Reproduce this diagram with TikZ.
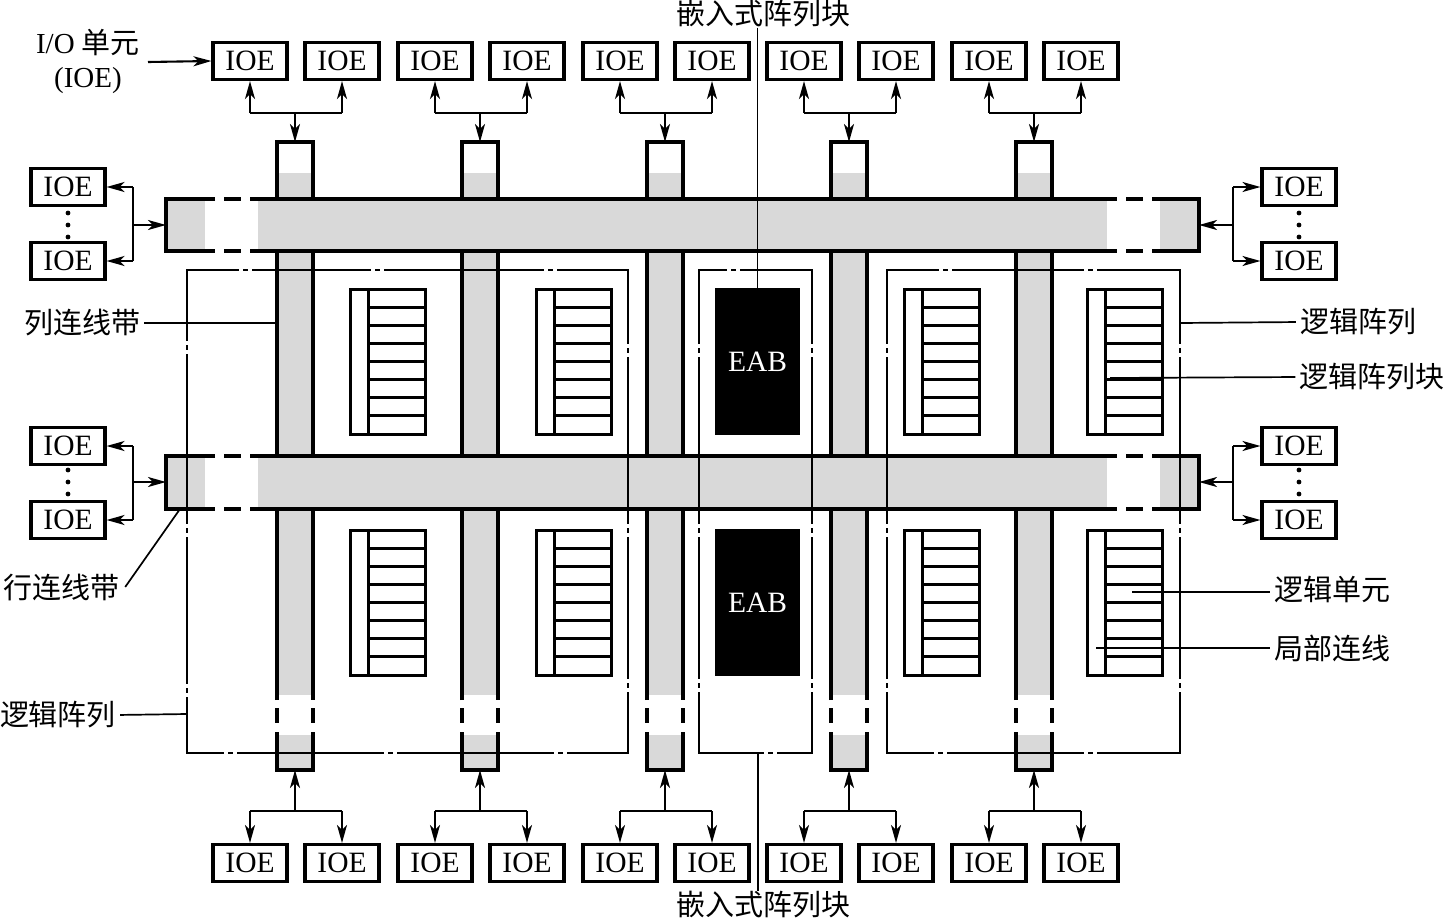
\documentclass[tikz,border=0pt]{standalone}
\usepackage{fontspec}
\setmainfont{Liberation Serif}
\newfontfamily\cjk{Noto Sans CJK SC}
\usetikzlibrary{arrows.meta}
\definecolor{bargrey}{RGB}{217,217,217}
\begin{document}
\begin{tikzpicture}[x=1pt,y=-1pt,
  thickline/.style={line width=3.3pt},
  thinline/.style={line width=1.7pt},
  ioe/.style={draw,line width=3.1pt,minimum width=74pt,minimum height=37pt,inner sep=0pt,font=\fontsize{29.5}{31}\selectfont},
  lbl/.style={inner sep=0pt,font=\fontsize{29}{31}\selectfont\cjk},
  conn/.style={line width=2.1pt},
  arr/.style={conn,-{Stealth[length=18pt,width=10pt,inset=5pt]}},
  labbox/.style={line width=3pt},
  vgap/.style={dash pattern=on 73pt off 6pt on 3pt off 6pt on 165pt off 6pt on 3pt off 6pt on 140pt off 6pt on 3pt off 6pt on 1000pt},
  leader/.style={thinline,shorten >=4pt},
]
\useasboundingbox (0,0) rectangle (1446,921);

% column interconnect bars
\foreach \c [count=\i] in {295,480,665,849,1034}{
  \fill[bargrey] (\c-18,173) rectangle (\c+18,695);
  \fill[bargrey] (\c-18,735) rectangle (\c+18,770);
  \draw[thickline] (\c-18,700) -- (\c-18,142) -- (\c+18,142) -- (\c+18,700);
  \draw[thickline] (\c-18,708) -- (\c-18,723) (\c+18,708) -- (\c+18,723);
  \draw[thickline] (\c-18,732) -- (\c-18,770) -- (\c+18,770) -- (\c+18,732);
  \coordinate (colT\i) at (\c,142);
  \coordinate (colB\i) at (\c,770);
}

% row interconnect bars
\foreach \ya/\yb/\n in {199/251/1,456/509/2}{
  \fill[white] (166,\ya) rectangle (1199,\yb);
  \fill[bargrey] (166,\ya) rectangle (205,\yb);
  \fill[bargrey] (258,\ya) rectangle (1107,\yb);
  \fill[bargrey] (1160,\ya) rectangle (1199,\yb);
  \draw[thickline] (215,\ya) -- (166,\ya) -- (166,\yb) -- (215,\yb);
  \draw[thickline] (224,\ya) -- (241,\ya) (224,\yb) -- (241,\yb);
  \draw[thickline] (250,\ya) -- (1117,\ya) (250,\yb) -- (1117,\yb);
  \draw[thickline] (1126,\ya) -- (1143,\ya) (1126,\yb) -- (1143,\yb);
  \draw[thickline] (1152,\ya) -- (1199,\ya) -- (1199,\yb) -- (1152,\yb);
}
\coordinate (barL1) at (166,225);
\coordinate (barR1) at (1199,225);
\coordinate (barL2) at (166,482);
\coordinate (barR2) at (1199,482);

% logic array borders (dash-dot)
\begin{scope}[thinline,line cap=rect]
  \draw[dash pattern=on 51pt off 6pt on 3pt off 6pt on 117pt off 6pt on 3pt off 6pt on 158pt off 6pt on 3pt off 6pt on 1000pt] (187,270) -- (628,270);
  \draw[dash pattern=on 36pt off 6pt on 3pt off 6pt on 145pt off 6pt on 3pt off 6pt on 155pt off 6pt on 3pt off 6pt on 1000pt] (187,753) -- (628,753);
  \draw[dash pattern=on 70pt off 6pt on 3pt off 6pt on 168pt off 6pt on 3pt off 6pt on 145pt off 6pt on 3pt off 6pt on 1000pt] (187,270) -- (187,753);
  \draw[vgap] (628,270) -- (628,753);
  \draw[dash pattern=on 27pt off 6pt on 3pt off 6pt on 1000pt] (699,270) -- (812,270);
  \draw[dash pattern=on 64pt off 6pt on 3pt off 6pt on 1000pt] (699,753) -- (812,753);
  \draw[vgap] (699,270) -- (699,753);
  \draw[vgap] (812,270) -- (812,753);
  \draw[dash pattern=on 51pt off 6pt on 3pt off 6pt on 130pt off 6pt on 3pt off 6pt on 1000pt] (887,270) -- (1180,270);
  \draw[dash pattern=on 46pt off 6pt on 3pt off 6pt on 135pt off 6pt on 3pt off 6pt on 1000pt] (887,753) -- (1180,753);
  \draw[vgap] (887,270) -- (887,753);
  \draw[vgap] (1180,270) -- (1180,753);
\end{scope}
\coordinate (arrL) at (187,714);
\coordinate (arrR) at (1180,323);
\coordinate (midB) at (758,753);

% logic array blocks
\foreach \lx in {350,536,904,1087}{
  \foreach \ly in {289,530}{
    \draw[labbox] (\lx,\ly) rectangle (\lx+75,\ly+145);
    \draw[labbox] (\lx+18,\ly) -- (\lx+18,\ly+145);
    \foreach \k in {1,...,7}
      \draw[labbox] (\lx+18,\ly+\k*18.125) -- (\lx+75,\ly+\k*18.125);
  }
}
\coordinate (labPt) at (1110,378);
\coordinate (lePt) at (1132,592);
\coordinate (liPt) at (1096,648);
\coordinate (col1L) at (277,323);
\coordinate (bar2pt) at (180,509);

% EABs
\node[fill=black,minimum width=85pt,minimum height=147pt,inner sep=0pt,text=white,font=\fontsize{29.5}{31}\selectfont] (eab1) at (757.5,361.5) {EAB};
\node[fill=black,minimum width=85pt,minimum height=147pt,inner sep=0pt,text=white,font=\fontsize{29.5}{31}\selectfont] (eab2) at (757.5,602.5) {EAB};

% top / bottom IOEs
\foreach \c [count=\i] in {295,480,665,849,1034}{
  \node[ioe] (tL\i) at (\c-45,61) {IOE};
  \node[ioe] (tR\i) at (\c+47,61) {IOE};
  \node[ioe] (bL\i) at (\c-45,863) {IOE};
  \node[ioe] (bR\i) at (\c+47,863) {IOE};
  \coordinate (tJ\i) at (\c,113);
  \coordinate (bJ\i) at (\c,811);
  \draw[conn] (tL\i.south |- tJ\i) -- (tR\i.south |- tJ\i);
  \draw[arr] (tL\i.south |- tJ\i) -- (tL\i.south);
  \draw[arr] (tR\i.south |- tJ\i) -- (tR\i.south);
  \draw[arr] (tJ\i) -- (colT\i);
  \draw[conn] (bL\i.north |- bJ\i) -- (bR\i.north |- bJ\i);
  \draw[arr] (bL\i.north |- bJ\i) -- (bL\i.north);
  \draw[arr] (bR\i.north |- bJ\i) -- (bR\i.north);
  \draw[arr] (bJ\i) -- (colB\i);
}

% side IOEs
\foreach \ya/\yb/\yc/\n in {187/261/225/1,446/520/482/2}{
  \node[ioe] (lA\n) at (68,\ya) {IOE};
  \node[ioe] (lB\n) at (68,\yb) {IOE};
  \node[ioe] (rA\n) at (1299,\ya) {IOE};
  \node[ioe] (rB\n) at (1299,\yb) {IOE};
  \foreach \d in {-12,0,12}{
    \fill (68,\yc+\d) circle[radius=2.4pt];
    \fill (1299,\yc+\d) circle[radius=2.4pt];
  }
  \coordinate (lJa\n) at (133,\ya);
  \coordinate (lJb\n) at (133,\yb);
  \coordinate (lJc\n) at (133,\yc);
  \coordinate (rJa\n) at (1233,\ya);
  \coordinate (rJb\n) at (1233,\yb);
  \coordinate (rJc\n) at (1233,\yc);
  \draw[conn] (lJa\n) -- (lJb\n);
  \draw[arr] (lJa\n) -- (lA\n.east);
  \draw[arr] (lJb\n) -- (lB\n.east);
  \draw[arr] (lJc\n) -- (barL\n);
  \draw[conn] (rJa\n) -- (rJb\n);
  \draw[arr] (rJa\n) -- (rA\n.west);
  \draw[arr] (rJb\n) -- (rB\n.west);
  \draw[arr] (rJc\n) -- (barR\n);
}

% labels
\node[inner sep=0pt,align=center,font=\fontsize{29}{34}\selectfont] (ioeLbl) at (88,61) {I/O {\cjk 单元}\\(IOE)};
\coordinate (ioeA) at (148,62);
\draw[arr] (ioeA) -- (tL1.west);

\node[lbl] (embT) at (763,14) {嵌入式阵列块};
\draw[thinline] (embT.south -| eab1.north) -- (eab1.north);
\node[lbl] (embB) at (763,905) {嵌入式阵列块};
\draw[thinline] (midB) -- (midB |- embB.north);

\node[lbl] (colLbl) at (82,323) {列连线带};
\draw[thinline,shorten <=4pt] (colLbl.east) -- (col1L);
\node[lbl] (rowLbl) at (62,587) {行连线带};
\draw[thinline] ([xshift=5pt]rowLbl.east) -- (bar2pt);
\node[lbl] (arrLblL) at (58,715) {逻辑阵列};
\draw[thinline,shorten <=4pt] (arrLblL.east) -- (arrL);

\node[lbl] (arrLblR) at (1358,322) {逻辑阵列};
\draw[leader] (arrR) -- (arrLblR.west);
\node[lbl] (labLbl) at (1372,377) {逻辑阵列块};
\draw[leader] (labPt) -- (labLbl.west);
\node[lbl] (leLbl) at (1332,589) {逻辑单元};
\draw[leader] (lePt) -- (lePt -| leLbl.west);
\node[lbl] (liLbl) at (1332,648) {局部连线};
\draw[leader] (liPt) -- (liPt -| liLbl.west);
\end{tikzpicture}
\end{document}
